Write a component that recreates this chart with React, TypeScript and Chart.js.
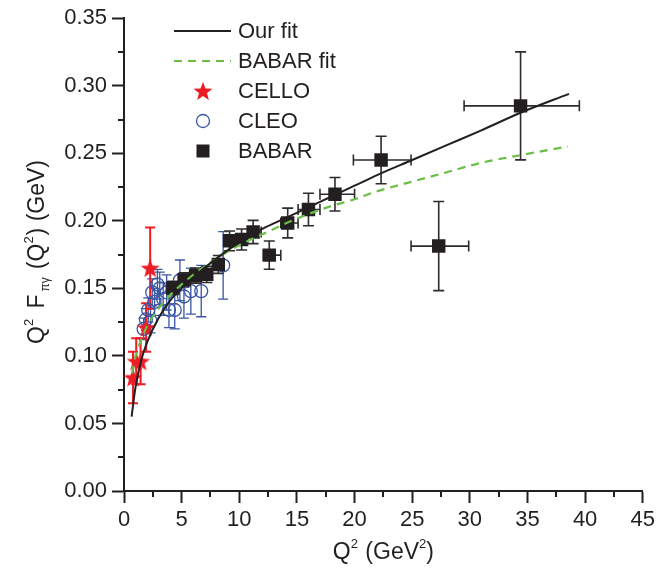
import React, { useEffect, useRef } from 'react';
import { Chart, registerables } from 'chart.js';

Chart.register(...registerables);

// ---------- data ----------
const babarQ2 = [4.24, 5.21, 6.21, 7.18, 8.18, 9.16, 10.2, 11.2, 12.6, 14.2, 16.0, 18.3, 22.3, 27.3, 34.4];
const babarF = [0.1503, 0.1563, 0.1595, 0.1604, 0.1677, 0.1852, 0.1862, 0.1917, 0.1746, 0.1984, 0.2084, 0.2197, 0.245, 0.1813, 0.2851];
const babarErr = [0.005, 0.0052, 0.0056, 0.006, 0.0066, 0.0073, 0.0078, 0.0086, 0.0105, 0.0110, 0.0120, 0.0124, 0.0176, 0.033, 0.040];
const babarQ2Low = [4.0, 5.0, 6.0, 7.0, 8.0, 9.0, 10.0, 11.0, 12.1, 13.6, 15.1, 17.0, 19.9, 24.9, 29.5];
const babarQ2High = [4.5, 5.5, 6.5, 7.5, 8.6, 9.6, 10.7, 11.9, 13.6, 15.1, 17.0, 20.0, 24.9, 29.9, 39.5];

const cleoQ2 = [1.7, 1.9, 2.1, 2.3, 2.45, 2.65, 2.9, 3.1, 3.4, 3.7, 3.9, 4.4, 4.85, 5.2, 5.8, 6.7, 8.6];
const cleoF = [0.120, 0.127, 0.134, 0.126, 0.147, 0.140, 0.153, 0.150, 0.142, 0.147, 0.134, 0.134, 0.156, 0.144, 0.148, 0.148, 0.167];
const cleoErr = [0.008, 0.008, 0.009, 0.009, 0.010, 0.010, 0.011, 0.012, 0.012, 0.013, 0.013, 0.014, 0.015, 0.016, 0.017, 0.019, 0.025];

const celloQ2 = [0.78, 1.06, 1.44, 1.92, 2.27];
const celloF = [0.084, 0.096, 0.096, 0.121, 0.165];
const celloErr = [0.019, 0.017, 0.017, 0.018, 0.030];

const ourFitQ2 = [0.66, 1.0, 1.5, 2.0, 3.0, 4.0, 5.0, 6.0, 8.0, 10, 11, 12, 14, 16, 18, 20, 22, 25, 28, 31, 34.4, 38.6];
const ourFitF = [0.055, 0.077, 0.097, 0.110, 0.128, 0.141, 0.150, 0.158, 0.172, 0.184, 0.189, 0.194, 0.202, 0.210, 0.218, 0.226, 0.234, 0.245, 0.256, 0.267, 0.280, 0.294];

const babarFitQ2 = [0.7, 1.0, 1.5, 2.0, 3.0, 4.0, 5.0, 6.0, 8.0, 10, 12, 14, 16, 18, 20, 22, 25, 28, 31, 34, 38.5];
const babarFitF = [0.087, 0.100, 0.112, 0.122, 0.135, 0.145, 0.153, 0.160, 0.172, 0.182, 0.190, 0.198, 0.205, 0.211, 0.216, 0.222, 0.229, 0.236, 0.243, 0.248, 0.255];

const xTickValues = [0, 5, 10, 15, 20, 25, 30, 35, 40, 45];
const xMinorTicks = [2.5, 7.5, 12.5, 17.5, 22.5, 27.5, 32.5, 37.5, 42.5];
const yTickValues = [0, 0.05, 0.1, 0.15, 0.2, 0.25, 0.3, 0.35];
const yMinorTicks = [0.025, 0.075, 0.125, 0.175, 0.225, 0.275, 0.325];

const legendLabels = ['Our fit', 'BABAR fit', 'CELLO', 'CLEO', 'BABAR'];

// ---------- styles ----------
const FONT = '"Liberation Sans", Arial, Helvetica, sans-serif';
const INK = '#231f20';
const RED = '#ed1c24';
const BLUE = '#3a56a5';
const GREEN = '#6abd45';
const FS = 22;
const TFS = 23;

function makeStar(size: number, color: string) {
  const c = document.createElement('canvas');
  c.width = size;
  c.height = size;
  const ctx = c.getContext('2d')!;
  const R = size / 2;
  const r = R * 0.42;
  ctx.beginPath();
  for (let i = 0; i < 10; i++) {
    const rad = i % 2 === 0 ? R : r;
    const a = -Math.PI / 2 + (i * Math.PI) / 5;
    const px = R + rad * Math.cos(a);
    const py = R + 0.8 + rad * Math.sin(a);
    if (i === 0) ctx.moveTo(px, py);
    else ctx.lineTo(px, py);
  }
  ctx.closePath();
  ctx.fillStyle = color;
  ctx.fill();
  return c;
}

type Piece = { text: string; size: number; dy: number; gap?: number };

function drawRich(ctx: CanvasRenderingContext2D, pieces: Piece[], cx: number, cy: number, rotate: boolean) {
  ctx.save();
  ctx.translate(cx, cy);
  if (rotate) ctx.rotate(-Math.PI / 2);
  const widths: number[] = [];
  let total = 0;
  for (const p of pieces) {
    ctx.font = `${p.size}px ${FONT}`;
    const w = ctx.measureText(p.text).width + (p.gap || 0);
    widths.push(w);
    total += w;
  }
  let x = -total / 2;
  ctx.textBaseline = 'middle';
  ctx.textAlign = 'left';
  ctx.fillStyle = INK;
  pieces.forEach((p, i) => {
    ctx.font = `${p.size}px ${FONT}`;
    ctx.fillText(p.text, x, p.dy);
    x += widths[i];
  });
  ctx.restore();
}

const xTitle: Piece[] = [
  { text: 'Q', size: TFS, dy: 0 },
  { text: '2', size: 13, dy: -9, gap: 1 },
  { text: ' (GeV', size: TFS, dy: 0 },
  { text: '2', size: 13, dy: -9 },
  { text: ')', size: TFS, dy: 0 },
];
const yTitle: Piece[] = [
  { text: 'Q', size: TFS, dy: 0 },
  { text: '2', size: 13, dy: -9, gap: 4 },
  { text: ' F', size: TFS, dy: 0, gap: 3 },
  { text: 'πγ', size: 12, dy: 8, gap: 8 },
  { text: '(Q', size: TFS, dy: 0 },
  { text: '2', size: 13, dy: -9, gap: 1 },
  { text: ') (GeV)', size: TFS, dy: 0 },
];

function drawErrX(ctx: CanvasRenderingContext2D, x1: number, x2: number, y: number, cap: number) {
  ctx.beginPath();
  ctx.moveTo(x1, y);
  ctx.lineTo(x2, y);
  ctx.moveTo(x1, y - cap);
  ctx.lineTo(x1, y + cap);
  ctx.moveTo(x2, y - cap);
  ctx.lineTo(x2, y + cap);
  ctx.stroke();
}
function drawErrY(ctx: CanvasRenderingContext2D, x: number, y1: number, y2: number, cap: number) {
  ctx.beginPath();
  ctx.moveTo(x, y1);
  ctx.lineTo(x, y2);
  ctx.moveTo(x - cap, y1);
  ctx.lineTo(x + cap, y1);
  ctx.moveTo(x - cap, y2);
  ctx.lineTo(x + cap, y2);
  ctx.stroke();
}

export default function App() {
  const ref = useRef<HTMLCanvasElement | null>(null);

  useEffect(() => {
    const canvas = ref.current;
    if (!canvas) return;
    const star = makeStar(20, RED);
    const legendStar = makeStar(20, RED);

    const errorBars = {
      id: 'errorBars',
      beforeDatasetsDraw(chart: any) {
        const ctx = chart.ctx as CanvasRenderingContext2D;
        const xs = chart.scales.x;
        const ys = chart.scales.y;
        ctx.save();
        // CLEO
        ctx.strokeStyle = BLUE;
        ctx.lineWidth = 1.3;
        cleoQ2.forEach((q, i) => {
          const px = xs.getPixelForValue(q);
          drawErrY(ctx, px, ys.getPixelForValue(cleoF[i] + cleoErr[i]), ys.getPixelForValue(cleoF[i] - cleoErr[i]), 5);
        });
        // BABAR
        ctx.strokeStyle = '#2e2b2c';
        ctx.lineWidth = 1.6;
        babarQ2.forEach((q, i) => {
          const px = xs.getPixelForValue(q);
          const py = ys.getPixelForValue(babarF[i]);
          drawErrY(ctx, px, ys.getPixelForValue(babarF[i] + babarErr[i]), ys.getPixelForValue(babarF[i] - babarErr[i]), 5.5);
          drawErrX(ctx, xs.getPixelForValue(babarQ2Low[i]), xs.getPixelForValue(babarQ2High[i]), py, 5.5);
        });
        // CELLO
        ctx.strokeStyle = RED;
        ctx.lineWidth = 2;
        celloQ2.forEach((q, i) => {
          const px = xs.getPixelForValue(q);
          drawErrY(ctx, px, ys.getPixelForValue(celloF[i] + celloErr[i]), ys.getPixelForValue(celloF[i] - celloErr[i]), 5);
        });
        ctx.restore();
      },
      afterDraw(chart: any) {
        const ctx = chart.ctx as CanvasRenderingContext2D;
        const xs = chart.scales.x;
        const ys = chart.scales.y;
        const area = chart.chartArea;
        ctx.save();
        // minor ticks
        ctx.strokeStyle = INK;
        ctx.lineWidth = 2;
        ctx.beginPath();
        xMinorTicks.forEach((v) => {
          const px = Math.round(xs.getPixelForValue(v));
          ctx.moveTo(px, area.bottom);
          ctx.lineTo(px, area.bottom + 6);
        });
        yMinorTicks.forEach((v) => {
          const py = Math.round(ys.getPixelForValue(v));
          ctx.moveTo(area.left, py);
          ctx.lineTo(area.left - 6, py);
        });
        ctx.stroke();

        // titles
        drawRich(ctx, xTitle, (area.left + area.right) / 2, 553, false);
        drawRich(ctx, yTitle, 38, 252, true);

        // legend
        const lx0 = area.left + 50;
        const lx1 = area.left + 107;
        const mx = area.left + 79;
        const tx = area.left + 114;
        const rows = [31, 61, 91, 121, 151];
        ctx.lineWidth = 2;
        ctx.strokeStyle = INK;
        ctx.beginPath();
        ctx.moveTo(lx0, rows[0]);
        ctx.lineTo(lx1, rows[0]);
        ctx.stroke();
        ctx.strokeStyle = GREEN;
        ctx.setLineDash([8, 6]);
        ctx.beginPath();
        ctx.moveTo(lx0, rows[1]);
        ctx.lineTo(lx1, rows[1]);
        ctx.stroke();
        ctx.setLineDash([]);
        ctx.drawImage(legendStar, mx - 10, rows[2] - 10);
        ctx.strokeStyle = BLUE;
        ctx.lineWidth = 1.3;
        ctx.beginPath();
        ctx.arc(mx, rows[3], 6.5, 0, Math.PI * 2);
        ctx.stroke();
        ctx.fillStyle = INK;
        ctx.fillRect(mx - 6.5, rows[4] - 6.5, 13, 13);

        ctx.font = `${FS}px ${FONT}`;
        ctx.textAlign = 'left';
        ctx.textBaseline = 'middle';
        ctx.fillStyle = INK;
        legendLabels.forEach((t, i) => ctx.fillText(t, tx, rows[i] + 1));
        ctx.restore();
      },
    };

    const chart = new Chart(canvas, {
      type: 'scatter',
      data: {
        datasets: [
          {
            label: 'Our fit',
            data: ourFitQ2.map((x, i) => ({ x, y: ourFitF[i] })),
            showLine: true,
            borderColor: INK,
            borderWidth: 2,
            pointRadius: 0,
            cubicInterpolationMode: 'monotone',
            fill: false,
          } as any,
          {
            label: 'BABAR fit',
            data: babarFitQ2.map((x, i) => ({ x, y: babarFitF[i] })),
            showLine: true,
            borderColor: GREEN,
            borderWidth: 2.2,
            borderDash: [8, 6],
            pointRadius: 0,
            cubicInterpolationMode: 'monotone',
            fill: false,
          } as any,
          {
            label: 'CELLO',
            data: celloQ2.map((x, i) => ({ x, y: celloF[i] })),
            pointStyle: star,
            pointRadius: 10,
            showLine: false,
          } as any,
          {
            label: 'BABAR',
            data: babarQ2.map((x, i) => ({ x, y: babarF[i] })),
            pointStyle: 'rect',
            pointRadius: 9.5,
            backgroundColor: INK,
            borderColor: INK,
            borderWidth: 0,
            showLine: false,
          },
          {
            label: 'CLEO',
            data: cleoQ2.map((x, i) => ({ x, y: cleoF[i] })),
            pointStyle: 'circle',
            pointRadius: 6.5,
            backgroundColor: 'rgba(255,255,255,0)',
            borderColor: BLUE,
            borderWidth: 1.3,
            showLine: false,
          },
        ],
      },
      options: {
        animation: false,
        responsive: false,
        events: [],
        layout: { padding: { top: 17, right: 13, left: 0, bottom: 0 } },
        plugins: {
          legend: { display: false },
          tooltip: { enabled: false },
        },
        scales: {
          x: {
            type: 'linear',
            min: 0,
            max: 45,
            afterBuildTicks: (s: any) => {
              s.ticks = xTickValues.map((v) => ({ value: v }));
            },
            afterFit: (s: any) => {
              s.height = 78;
            },
            ticks: {
              font: { family: FONT, size: FS },
              color: INK,
              padding: 4,
              maxRotation: 0,
              callback: (v: any) => String(v),
            },
            grid: {
              drawOnChartArea: false,
              drawTicks: true,
              tickLength: 12,
              tickWidth: 2,
              tickColor: INK,
            },
            border: { display: true, color: INK, width: 2 },
          },
          y: {
            type: 'linear',
            min: 0,
            max: 0.35,
            afterBuildTicks: (s: any) => {
              s.ticks = yTickValues.map((v) => ({ value: v }));
            },
            afterFit: (s: any) => {
              s.width = 124;
            },
            ticks: {
              font: { family: FONT, size: FS },
              color: INK,
              padding: 5,
              callback: (v: any) => Number(v).toFixed(2),
            },
            grid: {
              drawOnChartArea: false,
              drawTicks: true,
              tickLength: 12,
              tickWidth: 2,
              tickColor: INK,
            },
            border: { display: true, color: INK, width: 2 },
          },
        },
      },
      plugins: [errorBars],
    });

    return () => chart.destroy();
  }, []);

  return (
    <div style={{ position: 'absolute', left: 0, top: 0, width: 659, height: 569, background: '#fff' }}>
      <canvas ref={ref} width={659} height={569} style={{ display: 'block' }} />
    </div>
  );
}
